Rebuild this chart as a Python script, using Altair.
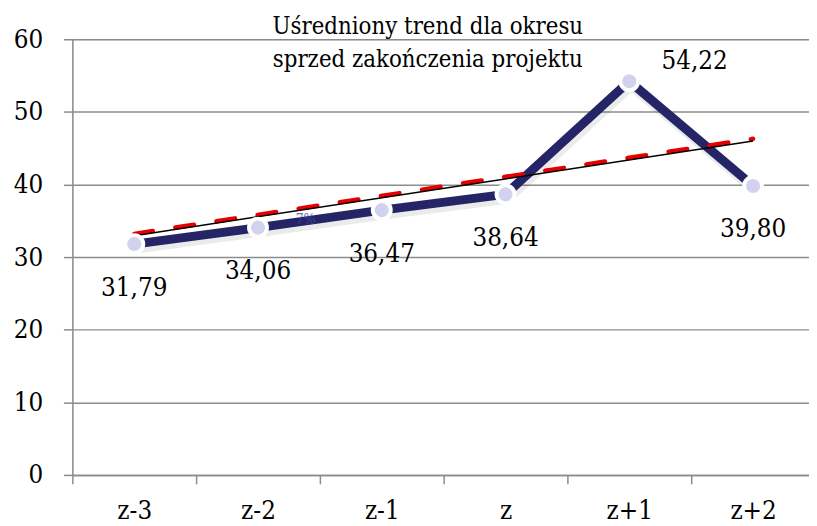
import altair as alt
import pandas as pd

# ---- data ----
categories = ["z-3", "z-2", "z-1", "z", "z+1", "z+2"]
values = [31.79, 34.06, 36.47, 38.64, 54.22, 39.80]
trend_x = [0, 5]
trend_black = [32.95, 46.0]
trend_red = [33.2, 46.3]
y_ticks = [0, 10, 20, 30, 40, 50, 60]
title_lines = ["Uśredniony trend dla okresu", "sprzed zakończenia projektu"]
note_text = "7%"

FONT = "DejaVu Serif Condensed"
GRID = "#8c8c8c"
NAVY = "#252466"

df = pd.DataFrame({
    "idx": list(range(len(categories))),
    "cat": categories,
    "value": values,
    "label": [f"{v:.2f}".replace(".", ",") for v in values],
})
trend_df = pd.DataFrame({"idx": trend_x, "black": trend_black, "red": trend_red})

cat_js = "[" + ",".join(f"'{c}'" for c in categories) + "]"
boundaries = [i - 0.5 for i in range(len(categories))]

x_enc = alt.X(
    "idx:Q",
    scale=alt.Scale(domain=[-0.5, 5.452], nice=False, zero=False),
    axis=alt.Axis(
        values=boundaries,
        labelExpr=f"{cat_js}[round(datum.value + 0.5)]",
        labelOffset=62.5,
        labelFlush=False,
        labelOverlap=False,
        labelBound=False,
        labelFont=FONT,
        labelFontSize=26,
        labelColor="black",
        labelBaseline="alphabetic",
        labelPadding=35,
        tickSize=9,
        tickColor=GRID,
        tickWidth=1.5,
        domainColor=GRID,
        domainWidth=1.5,
        grid=False,
        title=None,
    ),
)
y_scale = alt.Scale(domain=[0, 60], nice=False, zero=True)
y_axis = alt.Axis(
    values=y_ticks,
    labelFont=FONT,
    labelFontSize=26,
    labelColor="black",
    labelPadding=21,
    tickSize=9,
    tickColor=GRID,
    tickWidth=1.5,
    domainColor=GRID,
    domainWidth=1.5,
    grid=True,
    gridColor=GRID,
    gridWidth=1.5,
    title=None,
)

base = alt.Chart(df)

shadow = base.mark_line(color="black", opacity=0.08, strokeWidth=11, xOffset=2, yOffset=4).encode(
    x=x_enc, y=alt.Y("value:Q", scale=y_scale, axis=y_axis)
)
line = base.mark_line(color=NAVY, strokeWidth=9).encode(
    x=alt.X("idx:Q"), y=alt.Y("value:Q")
)
note = base.transform_filter("datum.idx == 1").mark_text(
    text=note_text, font=FONT, fontSize=14, color="#4a4aa0", opacity=0.8,
    dx=48, dy=-8, baseline="middle"
).encode(x="idx:Q", y="value:Q")

trend_src = alt.Chart(trend_df)
red = trend_src.mark_line(color="#e80000", strokeWidth=4.5, strokeDash=[19, 23], strokeCap="round").encode(
    x="idx:Q", y="red:Q"
)
black = trend_src.mark_line(color="black", strokeWidth=1.5).encode(
    x="idx:Q", y="black:Q"
)

points = base.mark_point(size=330, filled=True, fill="#d2d2ee", opacity=1, stroke="white", strokeWidth=4, shape="circle").encode(
    x="idx:Q", y="value:Q"
)

labels_below = base.transform_filter("datum.idx != 4").mark_text(
    font=FONT, fontSize=26, color="black", baseline="alphabetic", dy=52
).encode(x="idx:Q", y="value:Q", text="label:N")
label_peak = base.transform_filter("datum.idx == 4").mark_text(
    font=FONT, fontSize=26, color="black", baseline="alphabetic", dx=66, dy=-12
).encode(x="idx:Q", y="value:Q", text="label:N")

chart = alt.layer(
    shadow, line, note, red, black, points, labels_below, label_peak
).properties(
    width=744,
    height=440,
    title=alt.TitleParams(
        text=title_lines,
        font=FONT,
        fontSize=24,
        fontWeight="normal",
        color="black",
        anchor="middle",
        frame="group",
        baseline="alphabetic",
        lineHeight=33,
        offset=0,
        dx=-13,
        dy=65,
    ),
    autosize=alt.AutoSizeParams(type="none"),
    padding={"left": 65, "top": 29, "right": 0, "bottom": 49},
).configure_view(stroke=None).configure(background="white")

chart.save("out.html", embed_options={"renderer": "svg", "actions": False})
